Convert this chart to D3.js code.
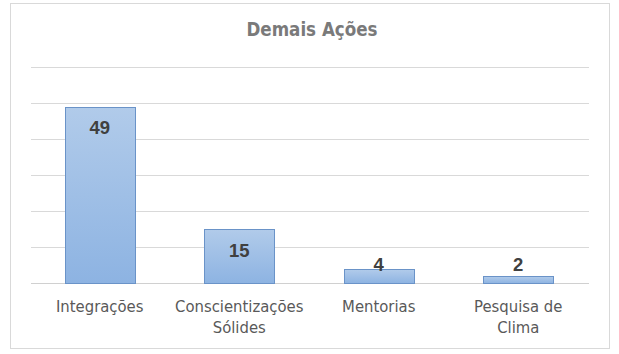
<!DOCTYPE html>
<html><head><meta charset="utf-8">
<script src="https://cdn.jsdelivr.net/npm/d3@7/dist/d3.min.js"></script>
<style>
html,body{margin:0;padding:0;background:#fff;}
svg{display:block;}
</style></head>
<body>
<svg id="chart" width="619" height="354"></svg>
<script>
const title = "Demais Ações";
const categories = ["Integrações", "Conscientizações Sólides", "Mentorias", "Pesquisa de Clima"];
const categoryLines = [["Integrações"], ["Conscientizações", "Sólides"], ["Mentorias"], ["Pesquisa de", "Clima"]];
const values = [49, 15, 4, 2];
const yTicks = [0, 10, 20, 30, 40, 50, 60];

const W = 619, H = 354;
const svg = d3.select("#chart");
const defs = svg.append("defs");
const grad = defs.append("linearGradient").attr("id","barGrad").attr("x1",0).attr("y1",0).attr("x2",0).attr("y2",1);
grad.append("stop").attr("offset","0%").attr("stop-color","#b1cbea");
grad.append("stop").attr("offset","100%").attr("stop-color","#8db3e2");

// chart border
svg.append("rect").attr("x",10.5).attr("y",3.5).attr("width",599).attr("height",345)
  .attr("fill","#fff").attr("stroke","#d9d9d9").attr("stroke-width",1);

const plot = {left:31, right:589, top:67, bottom:283};
const x = d3.scaleBand().domain(categories).range([plot.left, plot.right]).paddingInner(0.5).paddingOuter(0.25);
const y = d3.scaleLinear().domain([0, 60]).range([plot.bottom, plot.top]);

// gridlines
svg.append("g").selectAll("line").data(yTicks).join("line")
  .attr("x1",plot.left).attr("x2",plot.right)
  .attr("y1",d=>Math.round(y(d))+0.5).attr("y2",d=>Math.round(y(d))+0.5)
  .attr("stroke",d=>d===0?"#d0d0d0":"#d9d9d9").attr("stroke-width",1);

// bars
svg.append("g").selectAll("rect").data(values).join("rect")
  .attr("x",(d,i)=>Math.round(x(categories[i]))-0.5)
  .attr("y",d=>Math.round(y(d))+0.5)
  .attr("width",Math.round(x.bandwidth()))
  .attr("height",d=>Math.round(y(0))-Math.round(y(d)))
  .attr("fill","url(#barGrad)")
  .attr("stroke","#6a93c8").attr("stroke-width",1);

// data labels
svg.append("g").selectAll("text").data(values).join("text")
  .attr("x",(d,i)=>x(categories[i])+x.bandwidth()/2 - 1)
  .attr("y",d=>Math.min(y(d)+21, plot.bottom-19)+6.5)
  .attr("text-anchor","middle")
  .attr("font-family","Liberation Sans, Arial, sans-serif")
  .attr("font-weight","bold").attr("font-size",18.5)
  .attr("fill","#404040")
  .text(d=>d);

// category labels
const cat = svg.append("g").selectAll("text").data(categoryLines).join("text")
  .attr("x",(d,i)=>x(categories[i])+x.bandwidth()/2 - 1)
  .attr("y",312)
  .attr("text-anchor","middle")
  .attr("font-family","DejaVu Sans Condensed, DejaVu Sans, sans-serif")
  .attr("font-size",16.5)
  .attr("fill","#595959");
cat.selectAll("tspan").data(d=>d).join("tspan")
  .attr("x",function(){return d3.select(this.parentNode).attr("x");})
  .attr("dy",(d,i)=>i===0?0:21)
  .text(d=>d);

// title
svg.append("text").attr("x",312).attr("y",36)
  .attr("text-anchor","middle")
  .attr("font-family","DejaVu Sans Condensed, DejaVu Sans, sans-serif")
  .attr("font-weight","bold").attr("font-size",18.6)
  .attr("fill","#7a7a7a")
  .text(title);
</script>
</body></html>
